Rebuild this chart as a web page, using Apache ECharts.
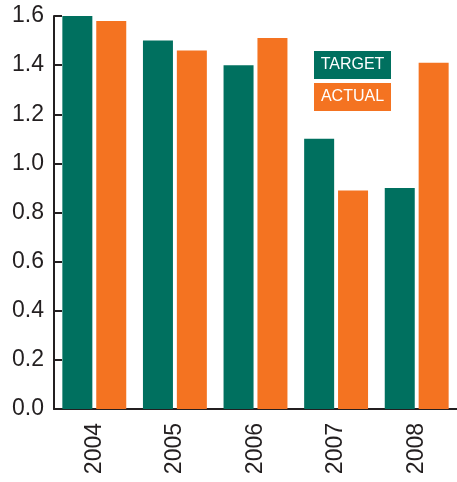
<!DOCTYPE html>
<html>
<head>
    <meta charset="UTF-8">
    <title>Target vs Actual</title>
    <script src="https://cdn.jsdelivr.net/npm/echarts@6/dist/echarts.min.js"></script>
    <style>
        html, body { margin: 0; padding: 0; background: #fff; }
        #main { width: 457px; height: 482px; }
    </style>
</head>
<body>
<div id="main"></div>
<script type="text/javascript">
    var years = ['2004', '2005', '2006', '2007', '2008'];
    var target = [1.6, 1.5, 1.4, 1.1, 0.9];
    var actual = [1.58, 1.46, 1.51, 0.89, 1.41];

    var tealColor = '#00705f';
    var orangeColor = '#f47321';
    var inkColor = '#231f20';

    // legend label box, same size for both items
    function legendBox(bg) {
        return {
            backgroundColor: bg,
            color: '#fff',
            fontSize: 16,
            width: 77,
            height: 28,
            lineHeight: 28,
            align: 'center'
        };
    }

    var myChart = echarts.init(document.getElementById('main'));
    myChart.setOption({
        animation: false,
        textStyle: {fontFamily: 'Liberation Sans, Arial, sans-serif'},
        grid: {left: 54, right: 0, top: 16, bottom: 73, containLabel: false},
        legend: {
            orient: 'vertical',
            left: 309,
            top: 51,
            padding: 0,
            itemGap: 4,
            itemWidth: 0,
            itemHeight: 0,
            selectedMode: false,
            icon: 'none',
            data: ['TARGET', 'ACTUAL'],
            formatter: function (name) {
                return name === 'TARGET' ? '{t|' + name + '}' : '{a|' + name + '}';
            },
            textStyle: {
                rich: {
                    t: legendBox(tealColor),
                    a: legendBox(orangeColor)
                }
            }
        },
        xAxis: {
            type: 'category',
            data: years,
            axisLine: {lineStyle: {color: inkColor, width: 2}},
            axisTick: {inside: true, length: 6, lineStyle: {color: inkColor, width: 2}},
            axisLabel: {rotate: 90, margin: 14, fontSize: 23, color: inkColor}
        },
        yAxis: {
            type: 'value',
            min: 0,
            max: 1.6,
            interval: 0.2,
            splitLine: {show: false},
            axisLine: {show: true, lineStyle: {color: inkColor, width: 2}},
            axisTick: {show: true, inside: true, length: 8, lineStyle: {color: inkColor, width: 2}},
            axisLabel: {
                fontSize: 23,
                color: inkColor,
                margin: 10,
                formatter: function (v) { return v.toFixed(1); }
            }
        },
        series: [{
            name: 'TARGET',
            type: 'bar',
            barWidth: 30,
            barGap: '13%',
            itemStyle: {color: tealColor},
            data: target
        }, {
            name: 'ACTUAL',
            type: 'bar',
            barWidth: 30,
            itemStyle: {color: orangeColor},
            data: actual
        }]
    });
</script>
</body>
</html>
